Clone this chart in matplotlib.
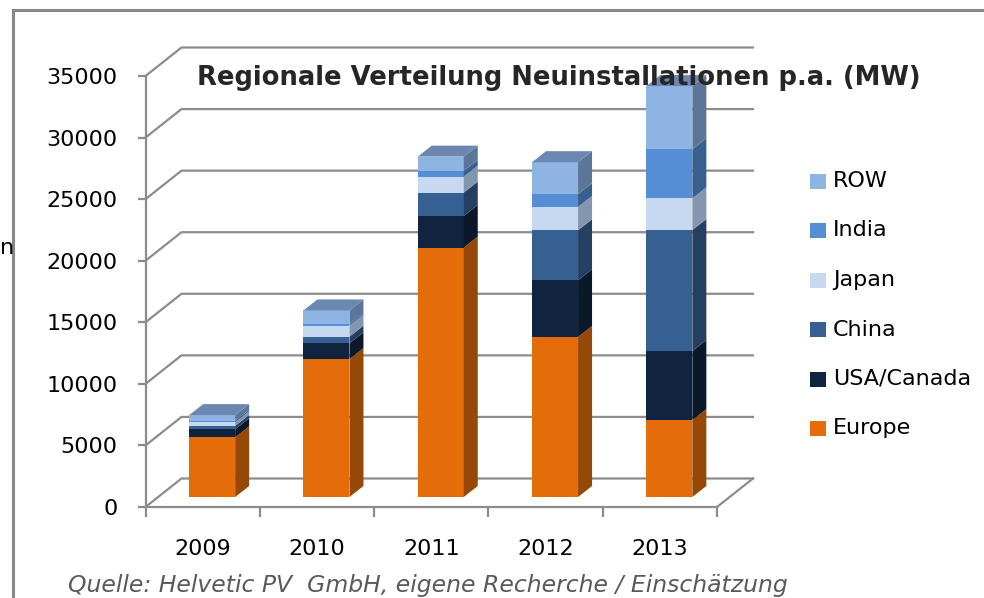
import matplotlib
matplotlib.use('Agg')
import matplotlib.pyplot as plt
from matplotlib.patches import Polygon, Rectangle
from matplotlib.lines import Line2D

# ---------------- data ----------------
years = ['2009', '2010', '2011', '2012', '2013']
series_names = ['Europe', 'USA/Canada', 'China', 'Japan', 'India', 'ROW']
europe = [4850, 11200, 20250, 13000, 6250]
usa_canada = [650, 1280, 2570, 4600, 5600]
china = [270, 540, 1900, 4060, 9830]
japan = [300, 890, 1300, 1900, 2570]
india = [120, 130, 460, 1030, 3980]
row = [460, 1110, 1160, 2600, 5140]
y_ticks = [0, 5000, 10000, 15000, 20000, 25000, 30000, 35000]
title = 'Regionale Verteilung Neuinstallationen p.a. (MW)'
source = 'Quelle: Helvetic PV  GmbH, eigene Recherche / Einschätzung'

values = [europe, usa_canada, china, japan, india, row]

# ---------------- styles ----------------
front_cols = ['#E46C0A', '#10243F', '#376092', '#C6D9F1', '#558ED5', '#8EB4E3']
side_cols = ['#964806', '#0A1829', '#243F60', '#8496AF', '#37608F', '#5C7699']
top_col = '#6C88B2'
grid_col = '#8C8C8C'

W, H = 984, 598
fig = plt.figure(figsize=(W / 100, H / 100), dpi=100)
fig.patch.set_facecolor('white')

ax_l, ax_r, ax_b, ax_t = 145.5, 717, 507, 76  # pixel positions of the front plot box
ax = fig.add_axes([ax_l / W, (H - ax_b) / H, (ax_r - ax_l) / W, (ax_b - ax_t) / H])
ax.set_xlim(-0.5, len(years) - 0.5)
ax.set_ylim(0, y_ticks[-1])
ax.patch.set_alpha(0)

px_x = (len(years)) / (ax_r - ax_l)
px_y = y_ticks[-1] / (ax_b - ax_t)

wall_dx, wall_dy = 36 * px_x, 28.5 * px_y
bar_w = 46 * px_x
bar_off_x, bar_off_y = 9.5 * px_x, 10 * px_y
dep_dx, dep_dy = 14 * px_x, 11 * px_y

# back wall gridlines + left side-wall diagonals
x_left, x_right = -0.5, len(years) - 0.5
for v in y_ticks:
    ax.add_line(Line2D([x_left, x_left + wall_dx, x_right + wall_dx],
                       [v, v + wall_dy, v + wall_dy], color=grid_col, lw=1.6,
                       clip_on=False, zorder=1))
# floor right edge
ax.add_line(Line2D([x_right, x_right + wall_dx], [0, wall_dy], color=grid_col,
                   lw=1.6, clip_on=False, zorder=1))

# 3D stacked bars
for i in range(len(years)):
    cx = i + bar_off_x
    x0, x1 = cx - bar_w / 2, cx + bar_w / 2
    bottom = 0
    for s, vals in enumerate(values):
        v = vals[i]
        y0 = bottom + bar_off_y
        ax.bar(cx, v, width=bar_w, bottom=y0, color=front_cols[s], linewidth=0,
               zorder=3, clip_on=False)
        ax.add_patch(Polygon([(x1, y0), (x1 + dep_dx, y0 + dep_dy),
                              (x1 + dep_dx, y0 + v + dep_dy), (x1, y0 + v)],
                             closed=True, facecolor=side_cols[s], edgecolor='none',
                             zorder=3, clip_on=False))
        bottom += v
    yt = bottom + bar_off_y
    ax.add_patch(Polygon([(x0, yt), (x0 + dep_dx, yt + dep_dy),
                          (x1 + dep_dx, yt + dep_dy), (x1, yt)],
                         closed=True, facecolor=top_col, edgecolor='none',
                         zorder=3, clip_on=False))

# axes styling
for sp in ['top', 'right']:
    ax.spines[sp].set_visible(False)
for sp in ['left', 'bottom']:
    ax.spines[sp].set_color(grid_col)
    ax.spines[sp].set_linewidth(1.6)
    ax.spines[sp].set_zorder(2)

ax.set_yticks(y_ticks)
ax.set_yticklabels([str(t) for t in y_ticks])
ax.tick_params(axis='y', direction='out', length=6, width=1.6, color=grid_col,
               pad=14, labelsize=16, labelcolor='black')

ax.set_xticks([k - 0.5 for k in range(len(years) + 1)])
ax.set_xticklabels([])
ax.tick_params(axis='x', which='major', direction='out', length=7, width=1.6,
               color=grid_col)
ax.set_xticks(range(len(years)), minor=True)
ax.set_xticklabels(years, minor=True)
ax.tick_params(axis='x', which='minor', length=0, pad=23, labelsize=16,
               labelcolor='black')

# title
fig.text(197 / W, 1 - 78 / H, title, ha='left', va='center', fontsize=18.6,
         fontweight='bold', color='#262626')

# legend (top to bottom: ROW ... Europe)
leg_y0, leg_dy = 181, 49.5
for k, s in enumerate(reversed(range(len(series_names)))):
    yc = leg_y0 + k * leg_dy
    fig.patches.append(Rectangle((810 / W, 1 - (yc + 7.5) / H), 16 / W, 15 / H,
                                 transform=fig.transFigure, facecolor=front_cols[s],
                                 edgecolor='none'))
    fig.text(833 / W, 1 - yc / H, series_names[s], ha='left', va='center',
             fontsize=16, color='black')

# source caption
fig.text(68 / W, 1 - 574 / H, source, ha='left', va='top', fontsize=16.9,
         style='italic', color='#595959')

# stray text fragment on the left
fig.text(0.5 / W, 1 - 248 / H, 'n', ha='left', va='center', fontsize=16, color='black')

# outer frame
fig.add_artist(Line2D([13 / W, 1.0], [1 - 9.5 / H, 1 - 9.5 / H], color='#888888', lw=2.2,
                      transform=fig.transFigure))
fig.add_artist(Line2D([13 / W, 13 / W], [0, 1 - 9.5 / H], color='#888888', lw=2.2,
                      transform=fig.transFigure))

fig.savefig('out.png', dpi=100)
